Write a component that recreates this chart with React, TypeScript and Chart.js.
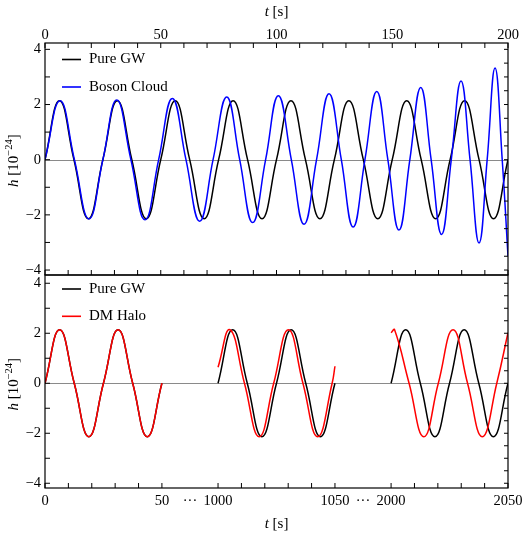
import React, { useEffect, useRef } from "react";
import { Chart, registerables } from "chart.js";

Chart.register(...registerables);

const SERIF = '"Liberation Serif", "Times New Roman", Times, serif';

// ---------- Top panel data: t [s], h [1e-24] ----------
const pureGwTopT = [0, 6.25, 12.5, 18.75, 25, 31.25, 37.5, 43.75, 50, 56.25, 62.5, 68.75, 75, 81.25, 87.5, 93.75, 100, 106.25, 112.5, 118.75, 125, 131.25, 137.5, 143.75, 150, 156.25, 162.5, 168.75, 175, 181.25, 187.5, 193.75, 200];
const pureGwTopH = [0, 2.14, 0, -2.14, 0, 2.14, 0, -2.14, 0, 2.14, 0, -2.14, 0, 2.14, 0, -2.14, 0, 2.14, 0, -2.14, 0, 2.14, 0, -2.14, 0, 2.14, 0, -2.14, 0, 2.14, 0, -2.14, 0];

const bosonT = [0, 6.5, 12.7, 19.0, 25.0, 31.0, 37.1, 43.2, 49.1, 55.0, 60.9, 66.8, 72.6, 78.5, 84.1, 89.7, 95.3, 100.8, 106.4, 111.9, 117.3, 122.7, 128.0, 133.1, 138.2, 143.3, 148.1, 152.9, 157.6, 162.3, 166.8, 171.3, 175.5, 179.7, 183.6, 187.5, 191.0, 194.4, 197.5, 200];
const bosonH = [0, 2.14, 0, -2.15, 0, 2.16, 0, -2.18, 0, 2.22, 0, -2.23, 0, 2.27, 0, -2.28, 0, 2.32, 0, -2.34, 0, 2.39, 0, -2.44, 0, 2.47, 0, -2.55, 0, 2.62, 0, -2.71, 0, 2.85, 0, -3.02, 0, 3.32, 0, -3.5];

// ---------- Bottom panel data (three time windows) ----------
const pureGwBotT = [0, 6.25, 12.5, 18.75, 25, 31.25, 37.5, 43.75, 50,
  1000, 1006.25, 1012.5, 1018.75, 1025, 1031.25, 1037.5, 1043.75, 1050,
  2000, 2006.25, 2012.5, 2018.75, 2025, 2031.25, 2037.5, 2043.75, 2050];
const pureGwBotH = [0, 2.14, 0, -2.14, 0, 2.14, 0, -2.14, 0,
  0, 2.14, 0, -2.14, 0, 2.14, 0, -2.14, 0,
  0, 2.14, 0, -2.14, 0, 2.14, 0, -2.14, 0];

const haloT = [0, 6.25, 12.5, 18.75, 25, 31.25, 37.5, 43.75, 50,
  1000, 1005.1, 1011.3, 1017.6, 1023.8, 1030.1, 1036.3, 1042.6, 1048.8, 1050,
  2000, 2001.5, 2007.7, 2014.0, 2020.2, 2026.5, 2032.7, 2039.0, 2045.2, 2050];
const haloH = [0, 2.14, 0, -2.14, 0, 2.14, 0, -2.14, 0,
  0.64, 2.14, 0, -2.14, 0, 2.14, 0, -2.14, 0, 0.68,
  2.02, 2.14, 0, -2.14, 0, 2.14, 0, -2.14, 0, 2.02];

// ---------- Axes ----------
const topXLabels = [0, 50, 100, 150, 200];
const topXMinor = [0, 10, 20, 30, 40, 50, 60, 70, 80, 90, 100, 110, 120, 130, 140, 150, 160, 170, 180, 190, 200];
const yLabels = [-4, -2, 0, 2, 4];
const yLeftMinor = [-4, -3, -2, -1, 0, 1, 2, 3, 4];
const yRightMinor = [-4, -3.5, -3, -2.5, -2, -1.5, -1, -0.5, 0, 0.5, 1, 1.5, 2, 2.5, 3, 3.5, 4];

const segStarts = [0, 1000, 2000];
const segLen = 50;
const gapLen = 24;
const botXLabels = [0, 50, 1000, 1050, 2000, 2050];
const botXMinor = [0, 10, 20, 30, 40, 50, 1000, 1010, 1020, 1030, 1040, 1050, 2000, 2010, 2020, 2030, 2040, 2050];

const legendTop = ["Pure GW", "Boson Cloud"];
const legendBottom = ["Pure GW", "DM Halo"];
const BLACK = "#000000";
const BLUE = "#0000ff";
const RED = "#ff0000";

// broken time axis -> continuous axis value
function toAxis(t: number): number {
  let i = 0;
  for (let k = 0; k < segStarts.length; k++) if (t >= segStarts[k]) i = k;
  return t - segStarts[i] + i * (segLen + gapLen);
}

function fmtNum(v: number): string {
  return v < 0 ? "\u2212" + Math.abs(v) : String(v);
}

function splitSegments(ts: number[], hs: number[], map: (t: number) => number) {
  const segs: { x: number; y: number }[][] = [];
  let cur: { x: number; y: number }[] = [];
  for (let i = 0; i < ts.length; i++) {
    if (i > 0 && ts[i] - ts[i - 1] > segLen) {
      segs.push(cur);
      cur = [];
    }
    cur.push({ x: map(ts[i]), y: hs[i] });
  }
  segs.push(cur);
  return segs;
}

function lineDs(data: any[], color: string, order: number) {
  return {
    data,
    borderColor: color,
    backgroundColor: color,
    borderWidth: 1.5,
    pointRadius: 0,
    fill: false,
    tension: 0.45,
    order,
  };
}

const panelPlugin = {
  id: "panel",
  beforeDatasetsDraw(chart: any) {
    const { ctx, chartArea: a, scales } = chart;
    const y0 = Math.round(scales.y.getPixelForValue(0)) + 0.5;
    ctx.save();
    ctx.strokeStyle = "#8a8a8a";
    ctx.lineWidth = 1;
    ctx.beginPath();
    ctx.moveTo(a.left, y0);
    ctx.lineTo(a.right, y0);
    ctx.stroke();
    ctx.restore();
  },
  afterDraw(chart: any, _a: any, o: any) {
    const { ctx, chartArea: a, scales } = chart;
    const xs = scales.x;
    const ys = scales.y;
    ctx.save();
    ctx.strokeStyle = "#000";
    ctx.lineWidth = 1.2;
    ctx.strokeRect(a.left, a.top, a.right - a.left, a.bottom - a.top);
    ctx.lineWidth = 1;
    ctx.beginPath();
    for (const v of o.leftTicks) {
      const y = ys.getPixelForValue(v);
      ctx.moveTo(a.left, y);
      ctx.lineTo(a.left + 5, y);
    }
    for (const v of o.rightTicks) {
      const y = ys.getPixelForValue(v);
      ctx.moveTo(a.right, y);
      ctx.lineTo(a.right - 4, y);
    }
    for (const v of o.topTicks) {
      const x = xs.getPixelForValue(v);
      ctx.moveTo(x, a.top);
      ctx.lineTo(x, a.top + 5);
    }
    for (const v of o.bottomTicks) {
      const x = xs.getPixelForValue(v);
      ctx.moveTo(x, a.bottom);
      ctx.lineTo(x, a.bottom - 5);
    }
    ctx.stroke();

    // legend
    ctx.font = `15px ${SERIF}`;
    ctx.textBaseline = "middle";
    ctx.textAlign = "left";
    o.legend.forEach((it: any, i: number) => {
      const y = o.legendY[i];
      ctx.strokeStyle = it.color;
      ctx.lineWidth = 1.6;
      ctx.beginPath();
      ctx.moveTo(62, y);
      ctx.lineTo(81, y);
      ctx.stroke();
      ctx.fillStyle = "#000";
      ctx.fillText(it.label, 89, y);
    });

    // x title: t [s]
    {
      const fI = `italic 15px ${SERIF}`;
      const fR = `15px ${SERIF}`;
      ctx.font = fI;
      const w1 = ctx.measureText("t").width;
      ctx.font = fR;
      const w2 = ctx.measureText(" [s]").width;
      const cx = (a.left + a.right) / 2;
      const x = cx - (w1 + w2) / 2;
      ctx.fillStyle = "#000";
      ctx.textBaseline = "middle";
      ctx.font = fI;
      ctx.fillText("t", x, o.xTitleY);
      ctx.font = fR;
      ctx.fillText(" [s]", x + w1, o.xTitleY);
    }

    // y title: h [10^-24]
    {
      const cy = ys.getPixelForValue(0) + 1;
      const parts = [
        { t: "h", f: `italic 15px ${SERIF}`, dy: 0 },
        { t: " [10", f: `15px ${SERIF}`, dy: 0 },
        { t: "\u221224", f: `10.5px ${SERIF}`, dy: -6 },
        { t: "]", f: `15px ${SERIF}`, dy: 0 },
      ];
      let total = 0;
      const widths = parts.map((p) => {
        ctx.font = p.f;
        const w = ctx.measureText(p.t).width;
        total += w;
        return w;
      });
      ctx.translate(13, cy);
      ctx.rotate(-Math.PI / 2);
      ctx.textBaseline = "alphabetic";
      ctx.fillStyle = "#000";
      let x = -total / 2;
      parts.forEach((p, i) => {
        ctx.font = p.f;
        ctx.fillText(p.t, x, 5 + p.dy);
        x += widths[i];
      });
    }
    ctx.restore();
  },
};

function buildConfig(p: {
  datasets: any[];
  xMin: number;
  xMax: number;
  yMin: number;
  yMax: number;
  xPos: "top" | "bottom";
  xTicks: { value: number; label: string }[];
  xHeight: number;
  xPad: number;
  padding: any;
  panel: any;
}) {
  const tickFont = { family: SERIF, size: 14.5 };
  return {
    type: "line",
    data: { datasets: p.datasets },
    plugins: [panelPlugin],
    options: {
      animation: false,
      responsive: false,
      maintainAspectRatio: false,
      events: [],
      layout: { padding: p.padding },
      plugins: {
        legend: { display: false },
        tooltip: { enabled: false },
        title: { display: false },
        panel: p.panel,
      },
      scales: {
        x: {
          type: "linear",
          position: p.xPos,
          min: p.xMin,
          max: p.xMax,
          grid: { display: false, drawTicks: false, tickLength: 0 },
          border: { display: false },
          ticks: {
            autoSkip: false,
            maxRotation: 0,
            minRotation: 0,
            padding: p.xPad,
            color: "#000",
            font: tickFont,
            callback: (_v: any, i: number) => (p.xTicks[i] ? p.xTicks[i].label : ""),
          },
          afterBuildTicks: (s: any) => {
            s.ticks = p.xTicks.map((t) => ({ value: t.value }));
          },
          afterFit: (s: any) => {
            s.height = p.xHeight;
            s.paddingLeft = 0;
            s.paddingRight = 0;
          },
        },
        y: {
          type: "linear",
          position: "left",
          min: p.yMin,
          max: p.yMax,
          grid: { display: false, drawTicks: false, tickLength: 0 },
          border: { display: false },
          ticks: {
            padding: 4,
            color: "#000",
            font: tickFont,
            callback: (_v: any, i: number) => fmtNum(yLabels[i]),
          },
          afterBuildTicks: (s: any) => {
            s.ticks = yLabels.map((v) => ({ value: v }));
          },
          afterFit: (s: any) => {
            s.width = 45;
            s.paddingTop = 0;
            s.paddingBottom = 0;
          },
        },
      },
    },
  } as any;
}

export default function App() {
  const topRef = useRef<HTMLCanvasElement>(null);
  const botRef = useRef<HTMLCanvasElement>(null);

  useEffect(() => {
    const topDatasets = [
      lineDs(bosonT.map((t, i) => ({ x: t, y: bosonH[i] })), BLUE, 0),
      lineDs(pureGwTopT.map((t, i) => ({ x: t, y: pureGwTopH[i] })), BLACK, 1),
    ];
    const topChart = new Chart(
      topRef.current as HTMLCanvasElement,
      buildConfig({
        datasets: topDatasets,
        xMin: 0,
        xMax: 200,
        yMin: -4.18,
        yMax: 4.23,
        xPos: "top",
        xTicks: topXLabels.map((v) => ({ value: v, label: String(v) })),
        xHeight: 43,
        xPad: -1,
        padding: { left: 0, right: 15, top: 0, bottom: 5 },
        panel: {
          leftTicks: yLeftMinor,
          rightTicks: yRightMinor,
          topTicks: topXMinor,
          bottomTicks: topXMinor,
          legend: [
            { label: legendTop[0], color: BLACK },
            { label: legendTop[1], color: BLUE },
          ],
          legendY: [59.5, 87],
          xTitleY: 12,
        },
      })
    );

    const haloSegs = splitSegments(haloT, haloH, toAxis);
    const pureSegs = splitSegments(pureGwBotT, pureGwBotH, toAxis);
    const botDatasets = [
      ...haloSegs.map((s) => lineDs(s, RED, 0)),
      ...pureSegs.map((s) => lineDs(s, BLACK, 1)),
    ];
    const botTicks: { value: number; label: string }[] = [];
    botXLabels.forEach((v, i) => {
      botTicks.push({ value: toAxis(v), label: String(v) });
      if (i % 2 === 1 && i < botXLabels.length - 1) {
        botTicks.push({ value: toAxis(v) + gapLen / 2, label: "\u00b7\u00b7\u00b7" });
      }
    });
    const botChart = new Chart(
      botRef.current as HTMLCanvasElement,
      buildConfig({
        datasets: botDatasets,
        xMin: 0,
        xMax: toAxis(2050),
        yMin: -4.19,
        yMax: 4.33,
        xPos: "bottom",
        xTicks: botTicks,
        xHeight: 48,
        xPad: 4,
        padding: { left: 0, right: 15, top: 10, bottom: 0 },
        panel: {
          leftTicks: yLeftMinor,
          rightTicks: yRightMinor,
          topTicks: [],
          bottomTicks: botXMinor.map(toAxis),
          legend: [
            { label: legendBottom[0], color: BLACK },
            { label: legendBottom[1], color: RED },
          ],
          legendY: [24, 51.3],
          xTitleY: 259,
        },
      })
    );

    return () => {
      topChart.destroy();
      botChart.destroy();
    };
  }, []);

  return (
    <div style={{ position: "absolute", left: 0, top: 0, width: 523, height: 536, background: "#fff" }}>
      <canvas ref={topRef} width={523} height={280} style={{ position: "absolute", left: 0, top: 0 }} />
      <canvas ref={botRef} width={523} height={271} style={{ position: "absolute", left: 0, top: 265 }} />
    </div>
  );
}
